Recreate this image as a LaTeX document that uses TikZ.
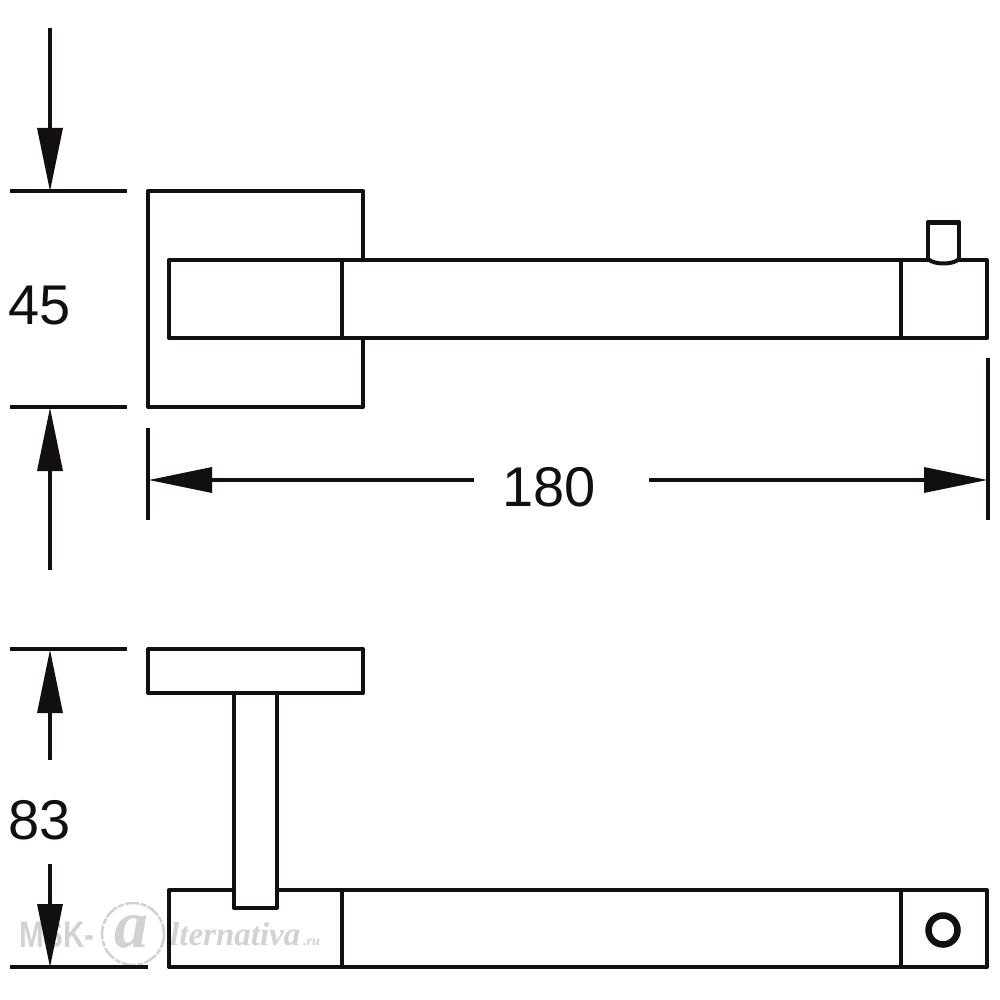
\documentclass[tikz,border=0pt]{standalone}
\usepackage{fontspec}
\setmainfont{Liberation Sans}
\newfontfamily\wmserif{Liberation Serif}
\definecolor{ink}{HTML}{140F0F}
\definecolor{wm}{HTML}{D2D2D2}
\begin{document}
\begin{tikzpicture}[x=1pt,y=-1pt,
  part/.style={draw=ink,line width=4pt,line join=round,line cap=round},
  dimline/.style={draw=ink,line width=4pt},
  head/.style={fill=ink,draw=none},
  dimtext/.style={text=ink,inner sep=0pt,font=\fontsize{56}{56}\selectfont},
  wmtext/.style={text=wm,inner sep=0pt,anchor=base west}]
\useasboundingbox (0,0) rectangle (1000,1000);
\fill[white] (0,0) rectangle (1000,1000);
% watermark
\node[wmtext,font=\fontsize{37}{37}\selectfont\bfseries] (wma) at (19,947) {\scalebox{.8}[1]{MSK-}};
\draw[wm,line width=2.5pt,dash pattern=on 14pt off 1.5pt on 6pt off 1.5pt] (133,934) circle[radius=31];
\node[wmtext,font=\fontsize{68}{68}\selectfont\wmserif\itshape\bfseries] (wmb) at (114,947) {a};
\node[wmtext,font=\fontsize{33}{33}\selectfont\wmserif\itshape\bfseries] (wmc) at (170,945) {lternativa};
\node[wmtext,font=\fontsize{14}{14}\selectfont\wmserif\itshape\bfseries] (wmd) at (303,945) {.ru};
% top view
\draw[part] (363,260) -- (363,191) -- (148,191) -- (148,407) -- (363,407) -- (363,338);
\draw[part] (342,260) -- (169,260) -- (169,338) -- (342,338);
\draw[part] (342,260) -- (928,260) (959,260) -- (987,260) -- (987,338) -- (342,338);
\draw[part] (342,260) -- (342,338) (901,260) -- (901,338);
\draw[part] (928,260) -- (928,222) -- (959,222) -- (959,260);
\draw[draw=ink,line width=5.5pt,line cap=round] (930,222.5) -- (957,222.5);
\draw[part] (928,259) .. controls (934,265) and (953,265) .. (959,259);
% side view
\draw[part] (148,649) rectangle (363,693);
\draw[part] (234,693) -- (234,908) -- (277,908) -- (277,693);
\draw[part] (234,890) -- (169,890) -- (169,967) -- (987,967) -- (987,890) -- (277,890);
\draw[part] (342,890) -- (342,967) (901,890) -- (901,967);
\draw[draw=ink,line width=6.5pt] (943,930) circle[radius=14.5];
% dimension 45
\draw[dimline] (10,191) -- (127,191) (10,407) -- (127,407);
\draw[dimline] (50,28) -- (50,130) (50,468) -- (50,570);
\fill[head] (37,128) -- (63,128) -- (50,191) -- cycle;
\fill[head] (37,471) -- (63,471) -- (50,408) -- cycle;
\node[dimtext] (d45) at (40,306) {45};
% dimension 180
\draw[dimline] (148,428) -- (148,520) (988,358) -- (988,520);
\draw[dimline] (210,480) -- (474,480) (649,480) -- (926,480);
\fill[head] (212,467) -- (212,493) -- (149,480) -- cycle;
\fill[head] (924,467) -- (924,493) -- (987,480) -- cycle;
\node[dimtext] (d180) at (549,487) {180};
% dimension 83
\draw[dimline] (10,649) -- (127,649) (10,967) -- (148,967);
\draw[dimline] (50,711) -- (50,760) (50,864) -- (50,906);
\fill[head] (37,713) -- (63,713) -- (50,650) -- cycle;
\fill[head] (37,904) -- (63,904) -- (50,967) -- cycle;
\node[dimtext] (d83) at (40,820) {83};
\end{tikzpicture}
\end{document}
